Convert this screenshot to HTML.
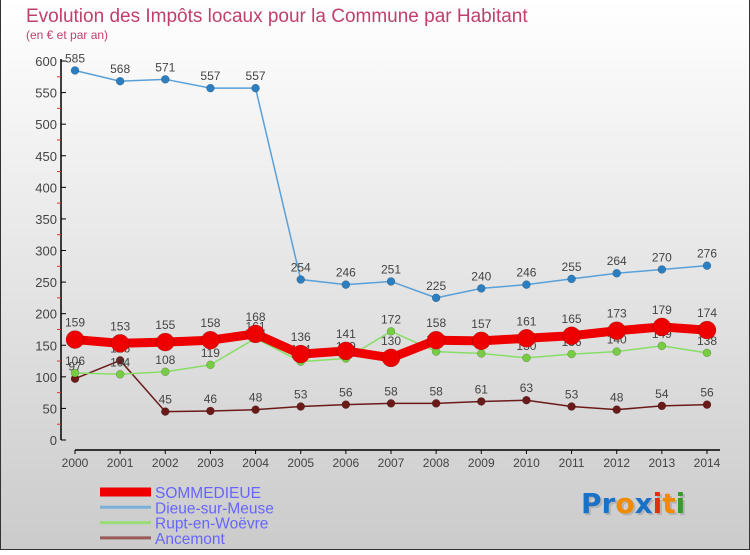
<!DOCTYPE html>
<html><head><meta charset="utf-8"><style>
html,body{margin:0;padding:0}
body{width:750px;height:550px;overflow:hidden;font-family:"Liberation Sans",sans-serif}
</style></head><body>
<svg width="750" height="550" viewBox="0 0 750 550" xmlns="http://www.w3.org/2000/svg" font-family="Liberation Sans, sans-serif">
<defs><linearGradient id="bg" x1="0" y1="0" x2="0" y2="1"><stop offset="0" stop-color="#ffffff"/><stop offset="1" stop-color="#cbcbcb"/></linearGradient></defs>
<rect x="0" y="0" width="750" height="550" fill="url(#bg)"/>
<rect x="0.5" y="-1" width="749" height="550.5" fill="none" stroke="#333" stroke-width="1"/>
<text x="26" y="22" font-size="19" fill="#c0406a">Evolution des Impôts locaux pour la Commune par Habitant</text>
<text x="26" y="39" font-size="12" fill="#c0406a">(en € et par an)</text>
<g id="axes"></g>
<g id="series"></g>
<g id="legend"></g>
<g font-size="28" font-family="DejaVu Sans, sans-serif" font-weight="bold">
<text x="583" y="515" fill="#999" opacity="0.5">Proxiti</text>
<text x="581" y="513"><tspan fill="#1a72c8">P</tspan><tspan fill="#1a72c8">r</tspan><tspan fill="#f08a00">o</tspan><tspan fill="#1a72c8">x</tspan><tspan fill="#e03010">i</tspan><tspan fill="#f08a00">t</tspan><tspan fill="#3a9a30">i</tspan></text>
</g>
</svg>
<script>
const years=[2000,2001,2002,2003,2004,2005,2006,2007,2008,2009,2010,2011,2012,2013,2014];
const yTicks=[0,50,100,150,200,250,300,350,400,450,500,550,600];
const sommedieue=[159,153,155,158,168,136,141,130,158,157,161,165,173,179,174];
const dieue=[585,568,571,557,557,254,246,251,225,240,246,255,264,270,276];
const rupt=[106,104,108,119,161,124,129,172,140,137,130,136,140,149,138];
const ancemont=[97,126,45,46,48,53,56,58,58,61,63,53,48,54,56];
const seriesNames=["SOMMEDIEUE","Dieue-sur-Meuse","Rupt-en-Woëvre","Ancemont"];

const NS="http://www.w3.org/2000/svg";
const X=i=>75+i*(707-75)/14;
const Y=v=>440-v*(440-61)/600;
function mk(tag,attrs,parent,text){const e=document.createElementNS(NS,tag);for(const k in attrs)e.setAttribute(k,attrs[k]);if(text!==undefined)e.textContent=text;parent.appendChild(e);return e;}
const axes=document.getElementById('axes');
let e=mk('line',{x1:61,y1:Y(600)-2,x2:61,y2:440,stroke:'#000','stroke-width':1.5},axes);

e=mk('line',{x1:75,y1:450,x2:720,y2:450,stroke:'#000','stroke-width':1.5},axes);

yTicks.forEach(v=>{
  mk('line',{x1:61,y1:Y(v),x2:66,y2:Y(v),stroke:'#000'},axes);
  if(v<600)mk('line',{x1:57,y1:Y(v+25),x2:61,y2:Y(v+25),stroke:'#e03030'},axes);
  const t=mk('text',{x:57,y:Y(v)+5,'text-anchor':'end','font-size':13,fill:'#444'},axes,String(v));
  
});
years.forEach((yr,i)=>{
  mk('line',{x1:X(i),y1:450,x2:X(i),y2:454,stroke:'#000'},axes);
  const t=mk('text',{x:X(i),y:467,'text-anchor':'middle','font-size':12,fill:'#444'},axes,String(yr));
  
});
const g=document.getElementById('series');
const defs=[
 {d:ancemont,c:'#6b1a1a',w:1.5,r:4,name:'series-ancemont'},
 {d:rupt,c:'#88dd66',w:1.5,r:4,name:'series-rupt-en-woevre'},
 {d:dieue,c:'#5aa0d8',w:1.5,r:4,name:'series-dieue-sur-meuse'},
 {d:sommedieue,c:'#ee0000',w:9,r:9,name:'series-sommedieue'}
];
const ptColor={'series-ancemont':'#6b1a1a','series-rupt-en-woevre':'#77cc44','series-dieue-sur-meuse':'#2b7fc0','series-sommedieue':'#ee0000'};
defs.forEach(s=>{
  const grp=mk('g',{},g);
  
  mk('polyline',{points:s.d.map((v,i)=>X(i)+','+Y(v)).join(' '),fill:'none',stroke:s.c,'stroke-width':s.w,'stroke-linejoin':'round'},grp);
  s.d.forEach((v,i)=>{
    const p=mk('circle',{cx:X(i),cy:Y(v),r:s.r,fill:ptColor[s.name],stroke:'rgba(0,0,0,0.3)','stroke-width':0.5},grp);
    
    const t=mk('text',{x:X(i),y:Y(v)-(s.r>5?13:8),'text-anchor':'middle','font-size':12,fill:'#444'},grp,String(v));
    
  });
});
const lg=document.getElementById('legend');
const lc=['#ee0000','#7ab0d8','#99dd77','#9a5a5a'];const lw=[9,3,3,3];
seriesNames.forEach((n,i)=>{
  const y=492+i*15.3;
  const grp=mk('g',{},lg);
  
  mk('line',{x1:100,y1:y,x2:151,y2:y,stroke:lc[i],'stroke-width':lw[i]},grp);
  mk('text',{x:155,y:y+6,'font-size':15.5,fill:'#6666ff'},grp,n);
});
</script>
</body></html>
